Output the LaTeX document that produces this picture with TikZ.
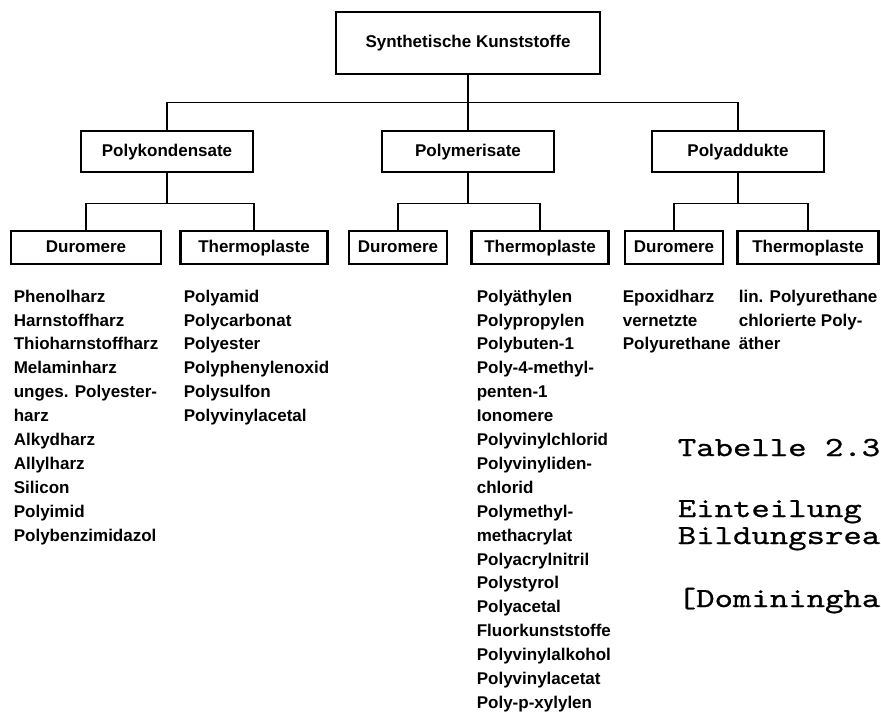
\documentclass[tikz,border=0pt]{standalone}
\usepackage{fontspec}
\setmainfont{Liberation Sans}
\newfontfamily\schreibmaschine{lmmono10-regular.otf}[FakeStretch=1.27,FakeBold=0.8]
\begin{document}
\begin{tikzpicture}[x=0.5pt,y=-0.5pt,line width=0.8pt,
  topbox/.style={draw,line width=1.4pt,minimum width=132pt,minimum height=31pt,font=\bfseries\fontsize{8.5}{10}\selectfont},
  groupbox/.style={draw,line width=1.4pt,minimum width=86pt,minimum height=20.5pt,text height=6.5pt,text depth=1.8pt,font=\bfseries\fontsize{8.5}{10}\selectfont},
  classbox/.style={draw,line width=1.4pt,minimum height=16.5pt,text height=6.5pt,text depth=1.8pt,font=\bfseries\fontsize{8.5}{10}\selectfont},
  liste/.style={anchor=north west,align=left,inner sep=0pt,font=\bfseries\fontsize{8.5}{11.95}\selectfont},
  note/.style={anchor=base west,inner sep=0pt,font=\schreibmaschine\fontsize{13.8}{18}\selectfont}]
  \useasboundingbox (0,0) rectangle (881,718);

  \node[topbox] (kunst) at (468,43) {Synthetische Kunststoffe};

  \node[groupbox] (kond) at (167,151.5) {Polykondensate};
  \node[groupbox] (merisat) at (468,151.5) {Polymerisate};
  \node[groupbox] (addukt) at (738,151.5) {Polyaddukte};

  \node[classbox,minimum width=75pt] (duro1) at (86,247.5) {Duromere};
  \node[classbox,minimum width=73.5pt] (thermo1) at (254,247.5) {Thermoplaste};
  \node[classbox,minimum width=49pt] (duro2) at (398,247.5) {Duromere};
  \node[classbox,minimum width=68.5pt] (thermo2) at (540,247.5) {Thermoplaste};
  \node[classbox,minimum width=49pt] (duro3) at (674,247.5) {Duromere};
  \node[classbox,minimum width=70.5pt] (thermo3) at (808,247.5) {Thermoplaste};

  \draw (kunst.south) -- ++(0,27) -| (kond.north);
  \draw (kunst.south) -- (merisat.north);
  \draw (kunst.south) -- ++(0,27) -| (addukt.north);

  \draw (kond.south) -- ++(0,30) -| (duro1.north);
  \draw (kond.south) -- ++(0,30) -| (thermo1.north);
  \draw (merisat.south) -- ++(0,30) -| (duro2.north);
  \draw (merisat.south) -- ++(0,30) -| (thermo2.north);
  \draw (addukt.south) -- ++(0,30) -| (duro3.north);
  \draw (addukt.south) -- ++(0,30) -| (thermo3.north);

  \node[liste] (liste1) at (13,289) {Phenolharz\\Harnstoffharz\\Thioharnstoffharz\\Melaminharz\\unges. Polyester-\\harz\\Alkydharz\\Allylharz\\Silicon\\Polyimid\\Polybenzimidazol};
  \node[liste] (liste2) at (183,289) {Polyamid\\Polycarbonat\\Polyester\\Polyphenylenoxid\\Polysulfon\\Polyvinylacetal};
  \node[liste] (liste3) at (476,289) {Polyäthylen\\Polypropylen\\Polybuten-1\\Poly-4-methyl-\\penten-1\\Ionomere\\Polyvinylchlorid\\Polyvinyliden-\\chlorid\\Polymethyl-\\methacrylat\\Polyacrylnitril\\Polystyrol\\Polyacetal\\Fluorkunststoffe\\Polyvinylalkohol\\Polyvinylacetat\\Poly-p-xylylen};
  \node[liste] (liste4) at (622,289) {Epoxidharz\\vernetzte\\Polyurethane};
  \node[liste] (liste5) at (738,289) {lin. Polyurethane\\chlorierte Poly-\\äther};

  \node[note] (tabelle) at (677,456) {Tabelle 2.3};
  \node[note] (einteil) at (677,517) {Einteilung};
  \node[note] (bildung) at (677,544) {Bildungsrea};
  \node[note] (quelle) at (677,607) {[Dominingha};
\end{tikzpicture}
\end{document}
